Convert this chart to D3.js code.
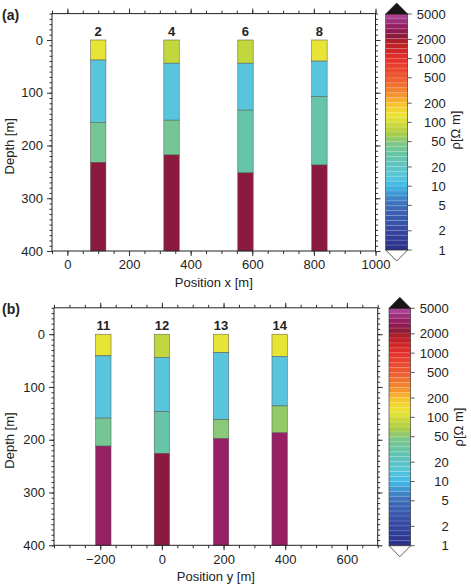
<!DOCTYPE html>
<html lang="en">
<head>
<meta charset="UTF-8">
<title>Resistivity columns</title>
<script src="https://d3js.org/d3.v7.min.js"></script>
<style>
  body { margin: 0; background: #fff; }
  text { font-family: "Liberation Sans", Arial, sans-serif; fill: #222; }
</style>
</head>
<body>
<svg width="471" height="586"></svg>
<script>
// panel (a): stations along x
const stationsA = ["2", "4", "6", "8"];
const posA = [100, 338, 578, 818];
const bottomsA = [[38, 156, 232, 400], [44, 152, 218, 400], [44, 133, 252, 400], [40, 107, 237, 400]];
const rhoA = [[120, 14, 40, 2300], [85, 14, 40, 2300], [85, 14, 30, 2300], [120, 14, 30, 2300]];

// panel (b): stations along y
const stationsB = ["11", "12", "13", "14"];
const posB = [-190, 0, 192, 382];
const bottomsB = [[41, 159, 212, 400], [44, 147, 226, 400], [35, 162, 198, 400], [42, 136, 187, 400]];
const rhoB = [[120, 14, 40, 3300], [85, 14, 30, 2300], [120, 14, 50, 3300], [120, 14, 55, 3300]];

const depthTicks = [0, 100, 200, 300, 400];
const xTicksA = [0, 200, 400, 600, 800, 1000];
const xTicksB = [-200, 0, 200, 400, 600];
const cbTicks = [1, 2, 5, 10, 20, 50, 100, 200, 500, 1000, 2000, 5000];

// colour palette of the colour bar (resistivity -> colour)
const cmapVals = [1, 2, 5, 7, 10, 14, 20, 32, 45, 63, 90, 126, 200, 280, 500, 1000, 1780, 2240, 3160, 5000];
const cmapCols = ["#2b2f86", "#3546a0", "#3d6cb8", "#3f8ccc", "#3fb8e8", "#58c5dc", "#5cc4c4",
  "#68c5a4", "#7cc78c", "#a4cc50", "#c8d83a", "#ece634", "#f8c02c", "#f48c2c", "#ee5a32",
  "#e6302c", "#b81e24", "#8c1a3c", "#921c5e", "#b04aa0"];
const cmap = d3.scaleLog().domain(cmapVals).range(cmapCols).interpolate(d3.interpolateRgb).clamp(true);

const svg = d3.select("svg");

function drawPanel(cfg) {
  const x = d3.scaleLinear().domain(cfg.xDomain).range([cfg.left, cfg.right]);
  const y = d3.scaleLinear().domain([-50, 400]).range([cfg.top, cfg.bottom]);
  const g = svg.append("g");

  // columns
  cfg.pos.forEach((p, i) => {
    let prev = 0;
    cfg.bottoms[i].forEach((b, j) => {
      g.append("rect")
        .attr("x", x(p - 25)).attr("width", x(p + 25) - x(p - 25))
        .attr("y", y(prev)).attr("height", y(b) - y(prev))
        .attr("fill", cmap(cfg.rho[i][j]))
        .attr("stroke", "#555").attr("stroke-width", 0.5);
      prev = b;
    });
    g.append("text").attr("x", x(p)).attr("y", y(0) - 4)
      .attr("text-anchor", "middle").attr("font-size", 13).attr("font-weight", "bold")
      .text(cfg.names[i]);
  });

  const tickStyle = sel => {
    sel.select(".domain").remove();
    sel.selectAll("line").attr("stroke", "#333");
  };
  const minorX = d3.range(Math.ceil(cfg.xDomain[0] / 50) * 50, cfg.xDomain[1] + 1, 50);
  const minorY = d3.range(-50, 401, 10);

  // bottom
  g.append("g").attr("transform", `translate(0,${cfg.bottom})`)
    .call(d3.axisBottom(x).tickValues(minorX).tickSize(3).tickFormat("")).call(tickStyle);
  g.append("g").attr("transform", `translate(0,${cfg.bottom})`)
    .call(d3.axisBottom(x).tickValues(cfg.xTicks).tickSize(5).tickPadding(4).tickFormat(d3.format("d")))
    .call(tickStyle)
    .selectAll("text").attr("font-size", 13).attr("font-family", "Liberation Sans, Arial, sans-serif").attr("fill", "#222");
  // top
  g.append("g").attr("transform", `translate(0,${cfg.top})`)
    .call(d3.axisTop(x).tickValues(minorX).tickSize(3).tickFormat("")).call(tickStyle);
  g.append("g").attr("transform", `translate(0,${cfg.top})`)
    .call(d3.axisTop(x).tickValues(cfg.xTicks).tickSize(5).tickFormat("")).call(tickStyle);
  // left
  g.append("g").attr("transform", `translate(${cfg.left},0)`)
    .call(d3.axisLeft(y).tickValues(minorY).tickSize(2.5).tickFormat("")).call(tickStyle);
  g.append("g").attr("transform", `translate(${cfg.left},0)`)
    .call(d3.axisLeft(y).tickValues(depthTicks).tickSize(5).tickPadding(4).tickFormat(d3.format("d")))
    .call(tickStyle)
    .selectAll("text").attr("font-size", 13).attr("font-family", "Liberation Sans, Arial, sans-serif").attr("fill", "#222");
  // right
  g.append("g").attr("transform", `translate(${cfg.right},0)`)
    .call(d3.axisRight(y).tickValues(minorY).tickSize(2.5).tickFormat("")).call(tickStyle);
  g.append("g").attr("transform", `translate(${cfg.right},0)`)
    .call(d3.axisRight(y).tickValues(depthTicks).tickSize(5).tickFormat("")).call(tickStyle);

  // frame
  g.append("rect").attr("x", cfg.left).attr("y", cfg.top)
    .attr("width", cfg.right - cfg.left).attr("height", cfg.bottom - cfg.top)
    .attr("fill", "none").attr("stroke", "#222").attr("stroke-width", 1);

  // labels
  g.append("text").attr("x", 2).attr("y", cfg.top + 6)
    .attr("font-size", 14).attr("font-weight", "bold").text(cfg.tag);
  g.append("text").attr("transform", `translate(14,${(cfg.top + cfg.bottom) / 2 + 14}) rotate(-90)`)
    .attr("text-anchor", "middle").attr("font-size", 13).text("Depth [m]");
  g.append("text").attr("x", (cfg.left + cfg.right) / 2).attr("y", cfg.bottom + 36)
    .attr("text-anchor", "middle").attr("font-size", 13).text(cfg.xTitle);

  // colour bar
  const cb = cfg.cb;
  const c = d3.scaleLog().domain([1, 5000]).range([cb.bottom, cb.top]);
  const nBands = 48;
  const lmax = Math.log10(5000);
  d3.range(nBands).forEach(k => {
    const l0 = lmax * k / nBands, l1 = lmax * (k + 1) / nBands;
    g.append("rect").attr("x", cb.left).attr("width", cb.right - cb.left)
      .attr("y", c(Math.pow(10, l1))).attr("height", c(Math.pow(10, l0)) - c(Math.pow(10, l1)))
      .attr("fill", cmap(Math.pow(10, (l0 + l1) / 2)));
    if (k > 0) g.append("line").attr("x1", cb.left).attr("x2", cb.right)
      .attr("y1", c(Math.pow(10, l0))).attr("y2", c(Math.pow(10, l0)))
      .attr("stroke", "#fff").attr("stroke-opacity", 0.25).attr("stroke-width", 0.6);
  });
  g.append("rect").attr("x", cb.left).attr("y", cb.top)
    .attr("width", cb.right - cb.left).attr("height", cb.bottom - cb.top)
    .attr("fill", "none").attr("stroke", "#333").attr("stroke-width", 0.6);
  const mid = (cb.left + cb.right) / 2;
  g.append("path")
    .attr("d", `M${cb.left},${cb.top}L${mid},${cb.top - 11}L${cb.right},${cb.top}Z`)
    .attr("fill", "#1a1416").attr("stroke", "#1a1416").attr("stroke-width", 0.6);
  g.append("path")
    .attr("d", `M${cb.left},${cb.bottom}L${mid},${cb.bottom + 11}L${cb.right},${cb.bottom}Z`)
    .attr("fill", "#fff").attr("stroke", "#333").attr("stroke-width", 0.8);
  cbTicks.forEach(v => {
    g.append("line").attr("x1", cb.right).attr("x2", cb.right + 4)
      .attr("y1", c(v)).attr("y2", c(v)).attr("stroke", "#333").attr("stroke-width", 0.8);
    g.append("text").attr("x", cb.right + 38).attr("y", c(v)).attr("dy", "0.35em")
      .attr("text-anchor", "end").attr("font-size", 13).text(v);
  });
  g.append("text").attr("transform", `translate(${cb.right + 52},${cb.labelY}) rotate(-90)`)
    .attr("text-anchor", "middle").attr("font-size", 13).text("ρ[Ω m]");
}

drawPanel({
  tag: "(a)", names: stationsA, pos: posA, bottoms: bottomsA, rho: rhoA,
  xDomain: [-50, 1000], xTicks: xTicksA, xTitle: "Position x [m]",
  left: 52, right: 375.5, top: 13.6, bottom: 251,
  cb: { left: 385.7, right: 407.7, top: 14, bottom: 250, labelY: 130 }
});
drawPanel({
  tag: "(b)", names: stationsB, pos: posB, bottoms: bottomsB, rho: rhoB,
  xDomain: [-350, 700], xTicks: xTicksB, xTitle: "Position y [m]",
  left: 54, right: 377.7, top: 307.8, bottom: 545.3,
  cb: { left: 389, right: 410.7, top: 308.3, bottom: 545.7, labelY: 427 }
});
</script>
</body>
</html>
